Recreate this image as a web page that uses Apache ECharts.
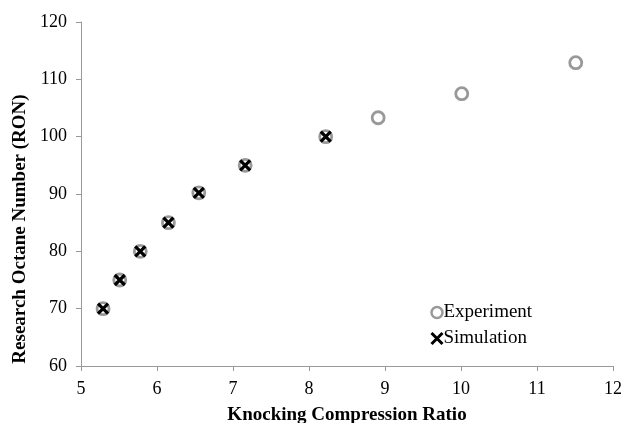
<!DOCTYPE html>
<html>
<head>
<meta charset="utf-8">
<script src="https://cdn.jsdelivr.net/npm/echarts@6/dist/echarts.min.js"></script>
<style>
  html, body { margin: 0; padding: 0; background: #fff; }
  #chart { width: 625px; height: 423px; }
</style>
</head>
<body>
<div id="chart"></div>
<script>
// values
const experimentCR = [5.29, 5.51, 5.78, 6.15, 6.55, 7.16, 8.22, 8.91, 10.01, 11.51];
const experimentRON = [70, 75, 80, 85, 90.2, 95, 100, 103.3, 107.5, 112.9];
const simulationCR = [5.29, 5.51, 5.78, 6.15, 6.55, 7.16, 8.22];
const simulationRON = [70, 75, 80, 85, 90.2, 95, 100];

const crossPath = 'path://M0,0L10,10M10,0L0,10';
const serif = '"Liberation Serif", "DejaVu Serif", serif';

const chart = echarts.init(document.getElementById('chart'));

const option = {
    animation: false,
    textStyle: { fontFamily: serif },
    grid: { left: 81, right: 12, top: 22, bottom: 57, outerBoundsMode: 'none', containLabel: false },
    legend: {
        orient: 'vertical',
        left: 425,
        top: 298,
        itemGap: 7,
        itemWidth: 11,
        itemHeight: 11,
        textStyle: { fontFamily: serif, fontSize: 19, color: '#000', padding: [0, 0, 0, -4] },
        data: [
            { name: 'Experiment', icon: 'circle', itemStyle: { color: '#fff', borderColor: '#999', borderWidth: 2.5 } },
            { name: 'Simulation', icon: crossPath, itemStyle: { color: 'transparent', borderColor: '#000', borderWidth: 3 } },
        ],
    },
    xAxis: {
        type: 'value',
        min: 5,
        max: 12,
        interval: 1,
        name: 'Knocking Compression Ratio',
        nameLocation: 'middle',
        nameGap: 40,
        nameTextStyle: { fontFamily: serif, fontSize: 19, fontWeight: 'bold', color: '#000' },
        axisLine: { lineStyle: { color: '#999', width: 1 } },
        axisTick: { show: true, length: 5, lineStyle: { color: '#999' } },
        axisLabel: { fontFamily: serif, fontSize: 18, color: '#000', margin: 14 },
        splitLine: { show: false },
    },
    yAxis: {
        type: 'value',
        min: 60,
        max: 120,
        interval: 10,
        name: 'Research Octane Number (RON)',
        nameLocation: 'middle',
        nameGap: 51,
        nameTextStyle: { fontFamily: serif, fontSize: 19, fontWeight: 'bold', color: '#000', padding: [0, 70, 0, 0] },
        axisLine: { show: true, lineStyle: { color: '#999', width: 1 } },
        axisTick: { show: true, length: 5, lineStyle: { color: '#999' } },
        axisLabel: { fontFamily: serif, fontSize: 18, color: '#000', margin: 14 },
        splitLine: { show: false },
    },
    series: [
        {
            name: 'Experiment',
            type: 'scatter',
            symbol: 'circle',
            symbolSize: 12,
            itemStyle: { color: '#fff', borderColor: '#999', borderWidth: 2.8, opacity: 1 },
            data: experimentCR.map((x, i) => [x, experimentRON[i]]),
        },
        {
            name: 'Simulation',
            type: 'scatter',
            symbol: crossPath,
            symbolSize: 10,
            itemStyle: { color: 'transparent', borderColor: '#000', borderWidth: 3.2, opacity: 1 },
            data: simulationCR.map((x, i) => [x, simulationRON[i]]),
        },
    ],
};

chart.setOption(option);
</script>
</body>
</html>
